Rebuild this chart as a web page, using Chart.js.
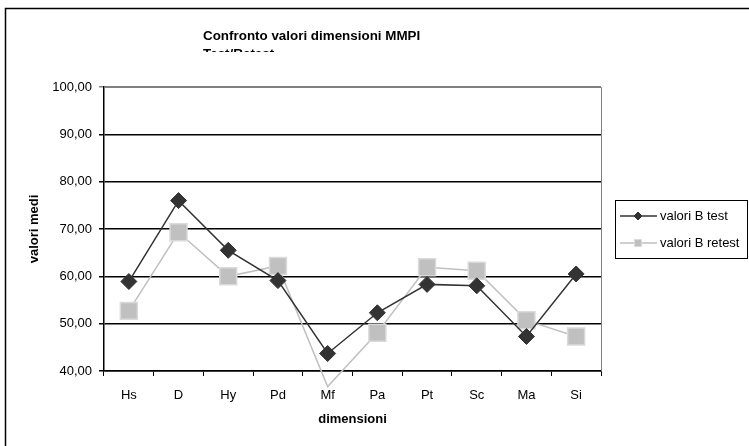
<!DOCTYPE html>
<html>
<head>
<meta charset="utf-8">
<script src="https://cdn.jsdelivr.net/npm/chart.js@4/dist/chart.umd.min.js"></script>
<style>
  html, body { margin: 0; padding: 0; background: #fff; overflow: hidden; }
  #wrap { position: relative; width: 749px; height: 446px; }
  #title {
    position: absolute; left: 203px; top: 27px; height: 25px; overflow: hidden;
    font: bold 13.4px "Liberation Sans", Arial, sans-serif; line-height: 17.7px;
    color: #000; white-space: nowrap;
  }
</style>
</head>
<body>
<div id="wrap">
  <canvas id="c" width="749" height="446"></canvas>
  <div id="title">Confronto valori dimensioni MMPI<br>Test/Retest</div>
</div>
<script>
// dati
const dimensioni = ['Hs', 'D', 'Hy', 'Pd', 'Mf', 'Pa', 'Pt', 'Sc', 'Ma', 'Si'];
const valoriTest = [58.9, 76.0, 65.5, 59.1, 43.7, 52.3, 58.3, 58.0, 47.3, 60.5];
const valoriRetest = [52.7, 69.3, 60.0, 62.2, 36.7, 48.1, 61.9, 61.2, 50.7, 47.3];
const yTicks = [40, 50, 60, 70, 80, 90, 100];

const FONT = '"Liberation Sans", Arial, sans-serif';

// cornice esterna, bordo grigio dell'area e legenda
const decor = {
  id: 'decor',
  afterDraw(chart) {
    const { ctx, chartArea: a } = chart;
    ctx.save();
    ctx.strokeStyle = '#808080';
    ctx.lineWidth = 1;
    ctx.beginPath();
    ctx.moveTo(a.left, a.top + 0.5);
    ctx.lineTo(a.right + 0.5, a.top + 0.5);
    ctx.lineTo(a.right + 0.5, a.bottom);
    ctx.stroke();

    ctx.strokeStyle = '#000';
    ctx.lineWidth = 1.5;
    ctx.strokeRect(5.5, 8.5, 900, 600);

    // legenda
    ctx.lineWidth = 1;
    ctx.strokeRect(615.5, 200.5, 132, 58);
    const rows = [216, 243];
    chart.data.datasets.forEach((ds, i) => {
      const y = rows[i];
      ctx.strokeStyle = ds.borderColor;
      ctx.lineWidth = ds.borderWidth;
      ctx.beginPath();
      ctx.moveTo(620, y);
      ctx.lineTo(657, y);
      ctx.stroke();
      ctx.fillStyle = ds.pointBackgroundColor;
      ctx.strokeStyle = ds.pointBorderColor;
      ctx.lineWidth = 1;
      ctx.beginPath();
      if (ds.pointStyle === 'rectRot') {
        ctx.moveTo(638, y - 4); ctx.lineTo(642, y); ctx.lineTo(638, y + 4); ctx.lineTo(634, y);
      } else {
        ctx.rect(634.5, y - 3.5, 7, 7);
      }
      ctx.closePath();
      ctx.fill();
      ctx.stroke();
      ctx.fillStyle = '#000';
      ctx.font = '13px ' + FONT;
      ctx.textBaseline = 'middle';
      ctx.fillText(ds.label, 660, y);
    });
    ctx.restore();
  }
};

new Chart(document.getElementById('c'), {
  type: 'line',
  data: {
    labels: dimensioni,
    datasets: [
      {
        label: 'valori B test',
        data: valoriTest,
        borderColor: '#333333',
        borderWidth: 1.5,
        pointStyle: 'rectRot',
        pointRadius: 8,
        pointBackgroundColor: '#333333',
        pointBorderColor: '#333333',
        pointBorderWidth: 1,
        tension: 0,
        clip: false
      },
      {
        label: 'valori B retest',
        data: valoriRetest,
        borderColor: '#c0c0c0',
        borderWidth: 1.5,
        pointStyle: 'rect',
        pointRadius: valoriRetest.map(v => (v < 40 ? 0 : 12)),
        pointBackgroundColor: '#c0c0c0',
        pointBorderColor: '#dadada',
        pointBorderWidth: 1.5,
        tension: 0,
        clip: false
      }
    ]
  },
  options: {
    responsive: false,
    animation: false,
    devicePixelRatio: 1,
    layout: { padding: { top: 87, right: 148, left: 0, bottom: 0 } },
    plugins: { legend: { display: false }, tooltip: { enabled: false } },
    scales: {
      x: {
        offset: true,
        grid: { offset: true, drawOnChartArea: false, drawTicks: true, tickLength: 5, color: '#000' },
        border: { color: '#000', width: 1.5 },
        ticks: { color: '#000', font: { family: FONT, size: 13 }, padding: 12, maxRotation: 0, autoSkip: false },
        title: {
          display: true, text: 'dimensioni', color: '#000',
          font: { family: FONT, size: 13, weight: 'bold' }, padding: { top: 0, bottom: 19 }
        },
        afterFit(s) { s.height = 75; }
      },
      y: {
        min: 40,
        max: 100,
        afterBuildTicks(s) { s.ticks = yTicks.map(v => ({ value: v })); },
        grid: {
          color: c => (c.tick && c.tick.value === 100 ? '#808080' : '#000'),
          lineWidth: 1.5,
          tickLength: 5
        },
        border: { color: '#000', width: 1.5 },
        ticks: {
          color: '#000', font: { family: FONT, size: 13 }, padding: 7,
          callback: v => v.toFixed(2).replace('.', ',')
        },
        title: {
          display: true, text: 'valori medi', color: '#000',
          font: { family: FONT, size: 13, weight: 'bold' }, padding: { top: 27, bottom: 0 }
        },
        afterFit(s) { s.width = 104; }
      }
    }
  },
  plugins: [decor]
});
</script>
</body>
</html>
